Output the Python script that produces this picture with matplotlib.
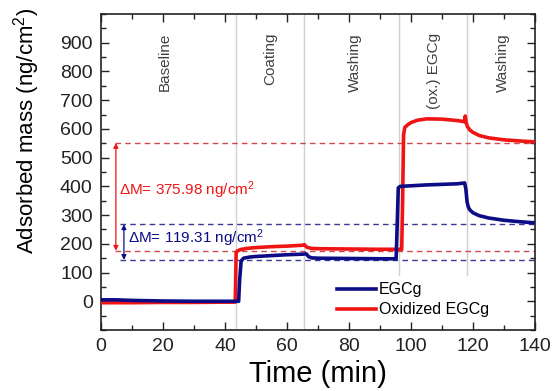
import numpy as np
import matplotlib
matplotlib.use('Agg')
import matplotlib.pyplot as plt
from matplotlib.ticker import MultipleLocator

plt.rcParams['font.family'] = ['Liberation Sans', 'DejaVu Sans']
plt.rcParams['mathtext.fontset'] = 'custom'
plt.rcParams['mathtext.rm'] = 'Liberation Sans'
plt.rcParams['mathtext.it'] = 'Liberation Sans:italic'

# EGCg 曲线 (min, ng/cm^2)
t_egcg = [0, 5, 10, 20, 30, 40, 44.4, 44.7, 45.2, 46, 48, 50, 55, 60, 65, 66.2,
          67, 68, 70, 80, 90, 95.2, 95.5, 95.9, 96.5, 100, 105, 110, 115, 117.3,
          117.7, 118.1, 118.5, 119, 120, 122, 125, 130, 135, 140]
m_egcg = [5, 5, 3, 1, 0, 0, 0, 70, 140, 150, 154, 156, 159, 162, 164, 165,
          155, 151, 150, 149, 148, 148, 250, 395, 400, 402, 405, 407, 409, 412,
          390, 345, 328, 318, 308, 298, 290, 282, 277, 273]

# 氧化 EGCg 曲线
t_ox = [0, 10, 20, 30, 40, 43.3, 43.6, 44, 45, 47, 50, 55, 60, 65, 65.6, 66.4,
        68, 70, 80, 90, 97.0, 97.3, 97.6, 98, 99, 100, 102, 105, 110, 115,
        117.2, 117.5, 117.8, 118.2, 119, 120, 122, 125, 130, 135, 140]
m_ox = [-5, -5, -4, -4, -3, -3, 170, 175, 180, 184, 187, 190, 192, 195, 197, 188,
        184, 183, 182, 181, 181, 350, 580, 605, 615, 622, 630, 635, 634, 629,
        625, 645, 622, 608, 596, 588, 577, 569, 562, 558, 555]

# 阶段分界与标签
phase_lines = [43.5, 65.5, 96.2, 118]
phase_names = ['Baseline', 'Coating', 'Washing', '(ox.) EGCg', 'Washing']
phase_pos = [20.6, 54.5, 82, 107.5, 129.5]

# ΔM 参考线
red_levels = [176, 551]
blue_levels = [144, 268]
dm_red = '375.98'
dm_blue = '119.31'

red = '#f01414'
navy = '#0c0c86'

fig = plt.figure(figsize=(5.54, 3.91), dpi=100)
ax = fig.add_axes([0.1823, 0.156, 0.7834, 0.8082])

for i, x in enumerate(phase_lines):
    ymin = 0.174 if x > 90 else 0
    ax.axvline(x, ymin=ymin, color='#d0d0d0', lw=1, zorder=1)

for y in red_levels:
    ax.hlines(y, 4.5, 140, colors='#d04848', linestyles=(0, (4, 3)), lw=1, zorder=2)
for y in blue_levels:
    ax.hlines(y, 6, 140, colors='#3a3a96', linestyles=(0, (4, 3)), lw=1, zorder=2)

ax.plot(t_egcg, m_egcg, color=navy, lw=2.6, label='EGCg', zorder=4)
ax.plot(t_ox, m_ox, color=red, lw=2.6, label='Oxidized EGCg', zorder=3)

# 双向箭头
ax.annotate('', xy=(4.8, red_levels[0]), xytext=(4.8, red_levels[1]),
            arrowprops=dict(arrowstyle='<|-|>', color=red, lw=0.9,
                            mutation_scale=7, shrinkA=0, shrinkB=0))
ax.annotate('', xy=(7.4, blue_levels[0]), xytext=(7.4, blue_levels[1]),
            arrowprops=dict(arrowstyle='<|-|>', color=navy, lw=0.9,
                            mutation_scale=7, shrinkA=0, shrinkB=0))
ax.text(5.8, 388, '\u0394M= ' + dm_red + ' ng/cm$^{2}$', color=red,
        fontsize=11, va='center', ha='left')
ax.text(8.6, 218, '\u0394M= ' + dm_blue + ' ng/cm$^{2}$', color=navy,
        fontsize=11, va='center', ha='left')

for name, x in zip(phase_names, phase_pos):
    ax.text(x, 0.94, name, transform=ax.get_xaxis_transform(), rotation=90,
            ha='center', va='top', fontsize=11, color='#404040')

ax.set_xlim(0, 140)
ax.set_ylim(-100, 1000)
ax.set_xticks(range(0, 141, 20))
ax.set_yticks(range(0, 901, 100))
ax.xaxis.set_minor_locator(MultipleLocator(10))
ax.yaxis.set_minor_locator(MultipleLocator(50))
ax.tick_params(which='both', direction='in', top=True, right=True,
               labelsize=14, width=1, colors='#222222')
ax.tick_params(which='major', length=6, pad=6)
ax.tick_params(which='minor', length=3.5)
for s in ax.spines.values():
    s.set_linewidth(1.2)
    s.set_color('#222222')

ax.set_xlabel('Time (min)', fontsize=21, labelpad=3)
ax.set_ylabel('Adsorbed mass (ng/cm$^{2}$)', fontsize=16)
ax.yaxis.set_label_coords(-0.135, 0.63)

leg = ax.legend(loc='lower left', bbox_to_anchor=(0.515, 0.0), fontsize=11.5,
                frameon=False, handlelength=2.4, handletextpad=0.2,
                labelspacing=0.3, borderaxespad=0.4)

fig.savefig('out.png', dpi=100)
